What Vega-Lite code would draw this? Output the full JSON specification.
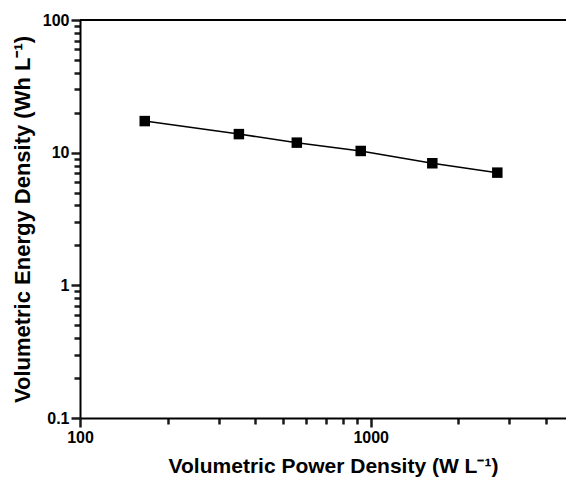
{
  "$schema": "https://vega.github.io/schema/vega-lite/v6.json",
  "autosize": {"type": "none"},
  "padding": {"left": 80, "top": 20, "right": 0, "bottom": 66},
  "width": 486,
  "height": 398,
  "background": "white",
  "config": {
    "view": {"stroke": null},
    "font": "Liberation Sans",
    "axis": {"grid": false, "labelFlush": false, "labelOverlap": false, "domainColor": "black", "labelColor": "black", "titleColor": "black"}
  },
  "data": {"values": [
    {"power": 167, "energy": 17.3},
    {"power": 352, "energy": 13.8},
    {"power": 557, "energy": 11.9},
    {"power": 924, "energy": 10.3},
    {"power": 1629, "energy": 8.32},
    {"power": 2726, "energy": 7.07}
  ]},
  "layer": [
    {
      "mark": {"type": "line", "color": "black", "strokeWidth": 1.5},
      "encoding": {
        "x": {"field": "power", "type": "quantitative", "scale": {"type": "log", "domain": [100, 4697], "nice": false},
              "title": "Volumetric Power Density (W L⁻¹)",
              "axis": {"orient": "bottom", "values": [100,200,300,400,500,600,700,800,900,1000,2000,3000,4000],
                       "labelExpr": "indexof([100,1000], datum.value) >= 0 ? format(datum.value, '~g') : ''",
                       "ticks": true, "tickColor": "#1a1a1a", "tickOpacity": 1, "tickWidth": 2.5,
                       "tickSize": {"condition": {"test": "indexof([100,1000], datum.value) >= 0", "value": 9}, "value": 6},
                       "domainWidth": 2,
                       "labelFontSize": 16, "labelFontWeight": "bold", "labelPadding": 2,
                       "titleFontSize": 21, "titleFontWeight": "bold", "titlePadding": 10, "titleX": 253}},
        "y": {"field": "energy", "type": "quantitative", "scale": {"type": "log", "domain": [0.1, 100], "nice": false},
              "title": "Volumetric Energy Density (Wh L⁻¹)",
              "axis": {"orient": "left", "values": [0.1,0.2,0.3,0.4,0.5,0.6,0.7,0.8,0.9,1,2,3,4,5,6,7,8,9,10,20,30,40,50,60,70,80,90,100],
                       "labelExpr": "indexof([0.1,1,10,100], datum.value) >= 0 ? format(datum.value, '~g') : ''",
                       "ticks": true, "tickColor": "#1a1a1a", "tickOpacity": 1, "tickWidth": 2.5,
                       "tickSize": {"condition": {"test": "indexof([0.1,1,10,100], datum.value) >= 0", "value": 9}, "value": 6},
                       "domainWidth": 2,
                       "labelFontSize": 16, "labelFontWeight": "bold", "labelPadding": 2,
                       "titleFontSize": 22, "titleFontWeight": "bold", "titlePadding": 8}}
      }
    },
    {
      "mark": {"type": "square", "color": "black", "opacity": 1, "size": 110},
      "encoding": {
        "x": {"field": "power", "type": "quantitative", "title": "Volumetric Power Density (W L⁻¹)"},
        "y": {"field": "energy", "type": "quantitative", "title": "Volumetric Energy Density (Wh L⁻¹)"}
      }
    },
    {
      "mark": {"type": "rule", "color": "black", "strokeWidth": 2},
      "encoding": {
        "y": {"datum": 100, "type": "quantitative", "title": "Volumetric Energy Density (Wh L⁻¹)"}
      }
    }
  ]
}
